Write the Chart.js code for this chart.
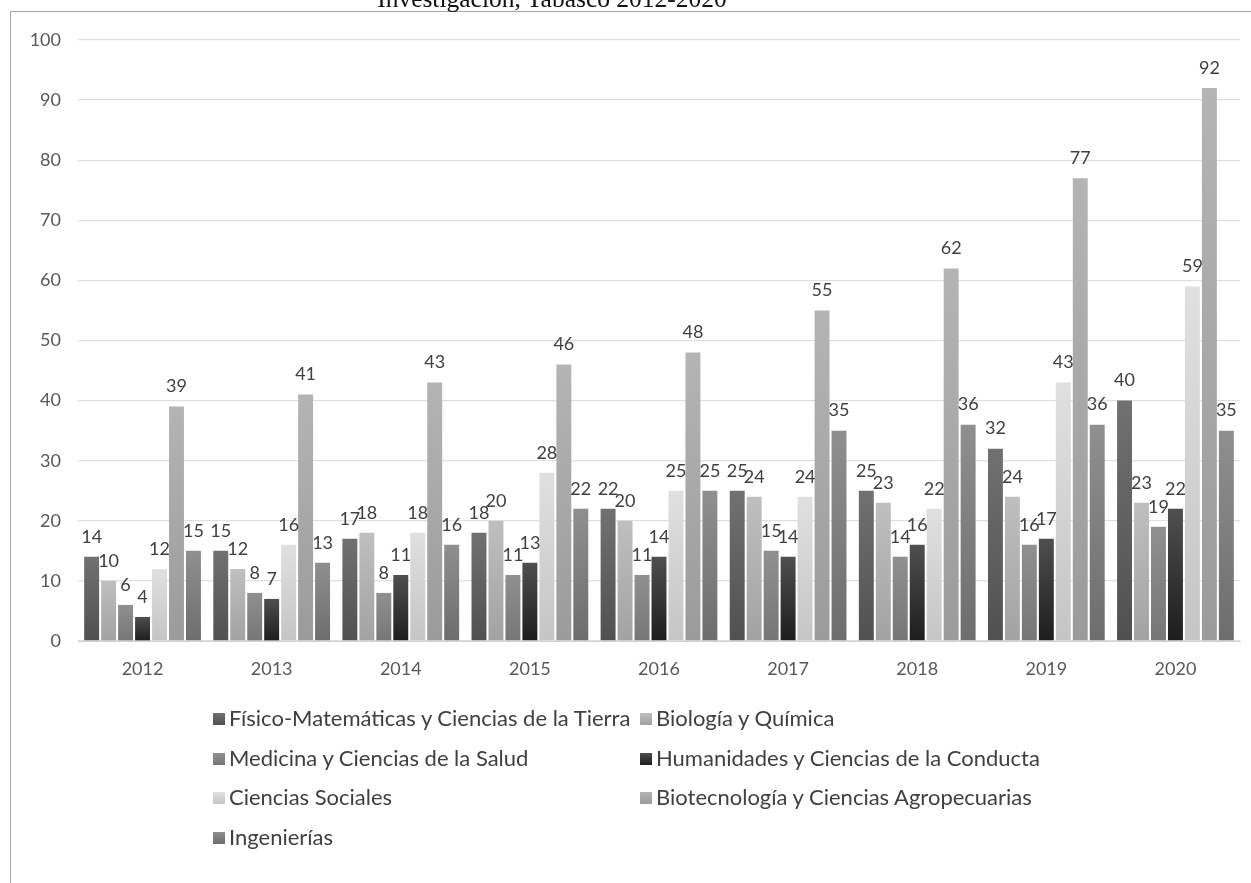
<!DOCTYPE html>
<html>
<head>
<meta charset="utf-8">
<script src="https://cdn.jsdelivr.net/npm/chart.js@4/dist/chart.umd.min.js"></script>
<style>
    body { margin: 0; background: #fff; width: 1251px; height: 883px; overflow: hidden; position: relative; font-family: Lato, "Open Sans", sans-serif; }
    #frame { position: absolute; left: 10px; top: 11px; width: 1260px; height: 900px; border-left: 1px solid #a6a6a6; border-top: 1px solid #a6a6a6; }
    #title { position: absolute; left: 0; width: 1104px; text-align: center; top: -16px; font-family: "Liberation Serif", "DejaVu Serif", serif; font-size: 25.5px; color: #111; }
    #legend { position: absolute; left: 213px; top: 703px; }
    .item { position: absolute; white-space: nowrap; font-size: 22px; color: #404040; line-height: 30px; }
    .item span.box { display: inline-block; width: 12px; height: 12px; margin-right: 4px; vertical-align: 1px; }
</style>
</head>
<body>
<div id="frame"></div>
<div id="title">Investigación, Tabasco 2012-2020</div>
<canvas id="barChart" width="1251" height="690"></canvas>
<div id="legend"></div>
<script>
const years = ['2012', '2013', '2014', '2015', '2016', '2017', '2018', '2019', '2020'];

const seriesNames = [
    'Físico-Matemáticas y Ciencias de la Tierra',
    'Biología y Química',
    'Medicina y Ciencias de la Salud',
    'Humanidades y Ciencias de la Conducta',
    'Ciencias Sociales',
    'Biotecnología y Ciencias Agropecuarias',
    'Ingenierías'
];

const fisicoMat = [14, 15, 17, 18, 22, 25, 25, 32, 40];
const biologia = [10, 12, 18, 20, 20, 24, 23, 24, 23];
const medicina = [6, 8, 8, 11, 11, 15, 14, 16, 19];
const humanidades = [4, 7, 11, 13, 14, 14, 16, 17, 22];
const sociales = [12, 16, 18, 28, 25, 24, 22, 43, 59];
const biotecnologia = [39, 41, 43, 46, 48, 55, 62, 77, 92];
const ingenierias = [15, 13, 16, 22, 25, 35, 36, 36, 35];

const yTicks = [0, 10, 20, 30, 40, 50, 60, 70, 80, 90, 100];

const allSeries = [fisicoMat, biologia, medicina, humanidades, sociales, biotecnologia, ingenierias];

// top / bottom colours of each bar's gradient
const gradColors = [
    ['#717171', '#505050'],
    ['#bfbfbf', '#a2a2a2'],
    ['#909090', '#767676'],
    ['#4f4f4f', '#1d1d1d'],
    ['#e0e0e0', '#c5c5c5'],
    ['#b4b4b4', '#9b9b9b'],
    ['#8f8f8f', '#6d6d6d']
];

const fontFamily = 'Lato, "Open Sans", sans-serif';

function barGradient(top, bottom) {
    return function(context) {
        const chart = context.chart;
        const yScale = chart.scales.y;
        if (!chart.chartArea || !yScale || context.raw === undefined) {
            return bottom;
        }
        const yTop = yScale.getPixelForValue(context.raw);
        const yBase = yScale.getPixelForValue(0);
        const g = chart.ctx.createLinearGradient(0, yTop, 0, yBase);
        g.addColorStop(0, top);
        g.addColorStop(1, bottom);
        return g;
    };
}

const valueLabels = {
    id: 'valueLabels',
    afterDatasetsDraw(chart) {
        const ctx = chart.ctx;
        ctx.save();
        ctx.font = '18px ' + fontFamily;
        ctx.fillStyle = '#404040';
        ctx.textAlign = 'center';
        ctx.textBaseline = 'middle';
        chart.data.datasets.forEach((ds, i) => {
            chart.getDatasetMeta(i).data.forEach((bar, j) => {
                ctx.fillText(String(ds.data[j]), bar.x, bar.y - 20);
            });
        });
        ctx.restore();
    }
};

function buildLegend() {
    const legend = document.getElementById('legend');
    legend.innerHTML = '';
    seriesNames.forEach((name, i) => {
        const div = document.createElement('div');
        div.className = 'item';
        const col = i % 2;
        const row = Math.floor(i / 2);
        div.style.left = (col === 0 ? 0 : 427) + 'px';
        div.style.top = (row * 39.5) + 'px';
        div.innerHTML = `<span class="box" style="background:linear-gradient(${gradColors[i][0]}, ${gradColors[i][1]})"></span>${name}`;
        legend.appendChild(div);
    });
}

document.addEventListener('DOMContentLoaded', () => {
    const ctx = document.getElementById('barChart').getContext('2d');

    new Chart(ctx, {
        type: 'bar',
        data: {
            labels: years,
            datasets: allSeries.map((values, i) => ({
                label: seriesNames[i],
                data: values,
                backgroundColor: barGradient(gradColors[i][0], gradColors[i][1]),
                borderWidth: 0,
                categoryPercentage: 0.92,
                barPercentage: 0.88
            }))
        },
        options: {
            responsive: false,
            animation: false,
            layout: { padding: { top: 40, right: 11, left: 0, bottom: 0 } },
            plugins: {
                legend: { display: false },
                tooltip: { enabled: false }
            },
            scales: {
                x: {
                    grid: { display: false, drawTicks: false },
                    border: { color: '#d0d0d0', width: 1 },
                    ticks: {
                        color: '#595959',
                        font: { family: fontFamily, size: 18 },
                        padding: 17,
                        maxRotation: 0
                    },
                    afterFit: function(scale) { scale.height = 49; }
                },
                y: {
                    min: 0,
                    max: 100,
                    afterBuildTicks: function(scale) {
                        scale.ticks = yTicks.map(v => ({ value: v }));
                    },
                    grid: { color: '#dde1e7', drawTicks: false, lineWidth: 1.3 },
                    border: { display: false },
                    ticks: {
                        color: '#595959',
                        font: { family: fontFamily, size: 18 },
                        padding: 17
                    },
                    afterFit: function(scale) { scale.width = 78; }
                }
            }
        },
        plugins: [valueLabels]
    });

    buildLegend();
});
</script>
</body>
</html>
